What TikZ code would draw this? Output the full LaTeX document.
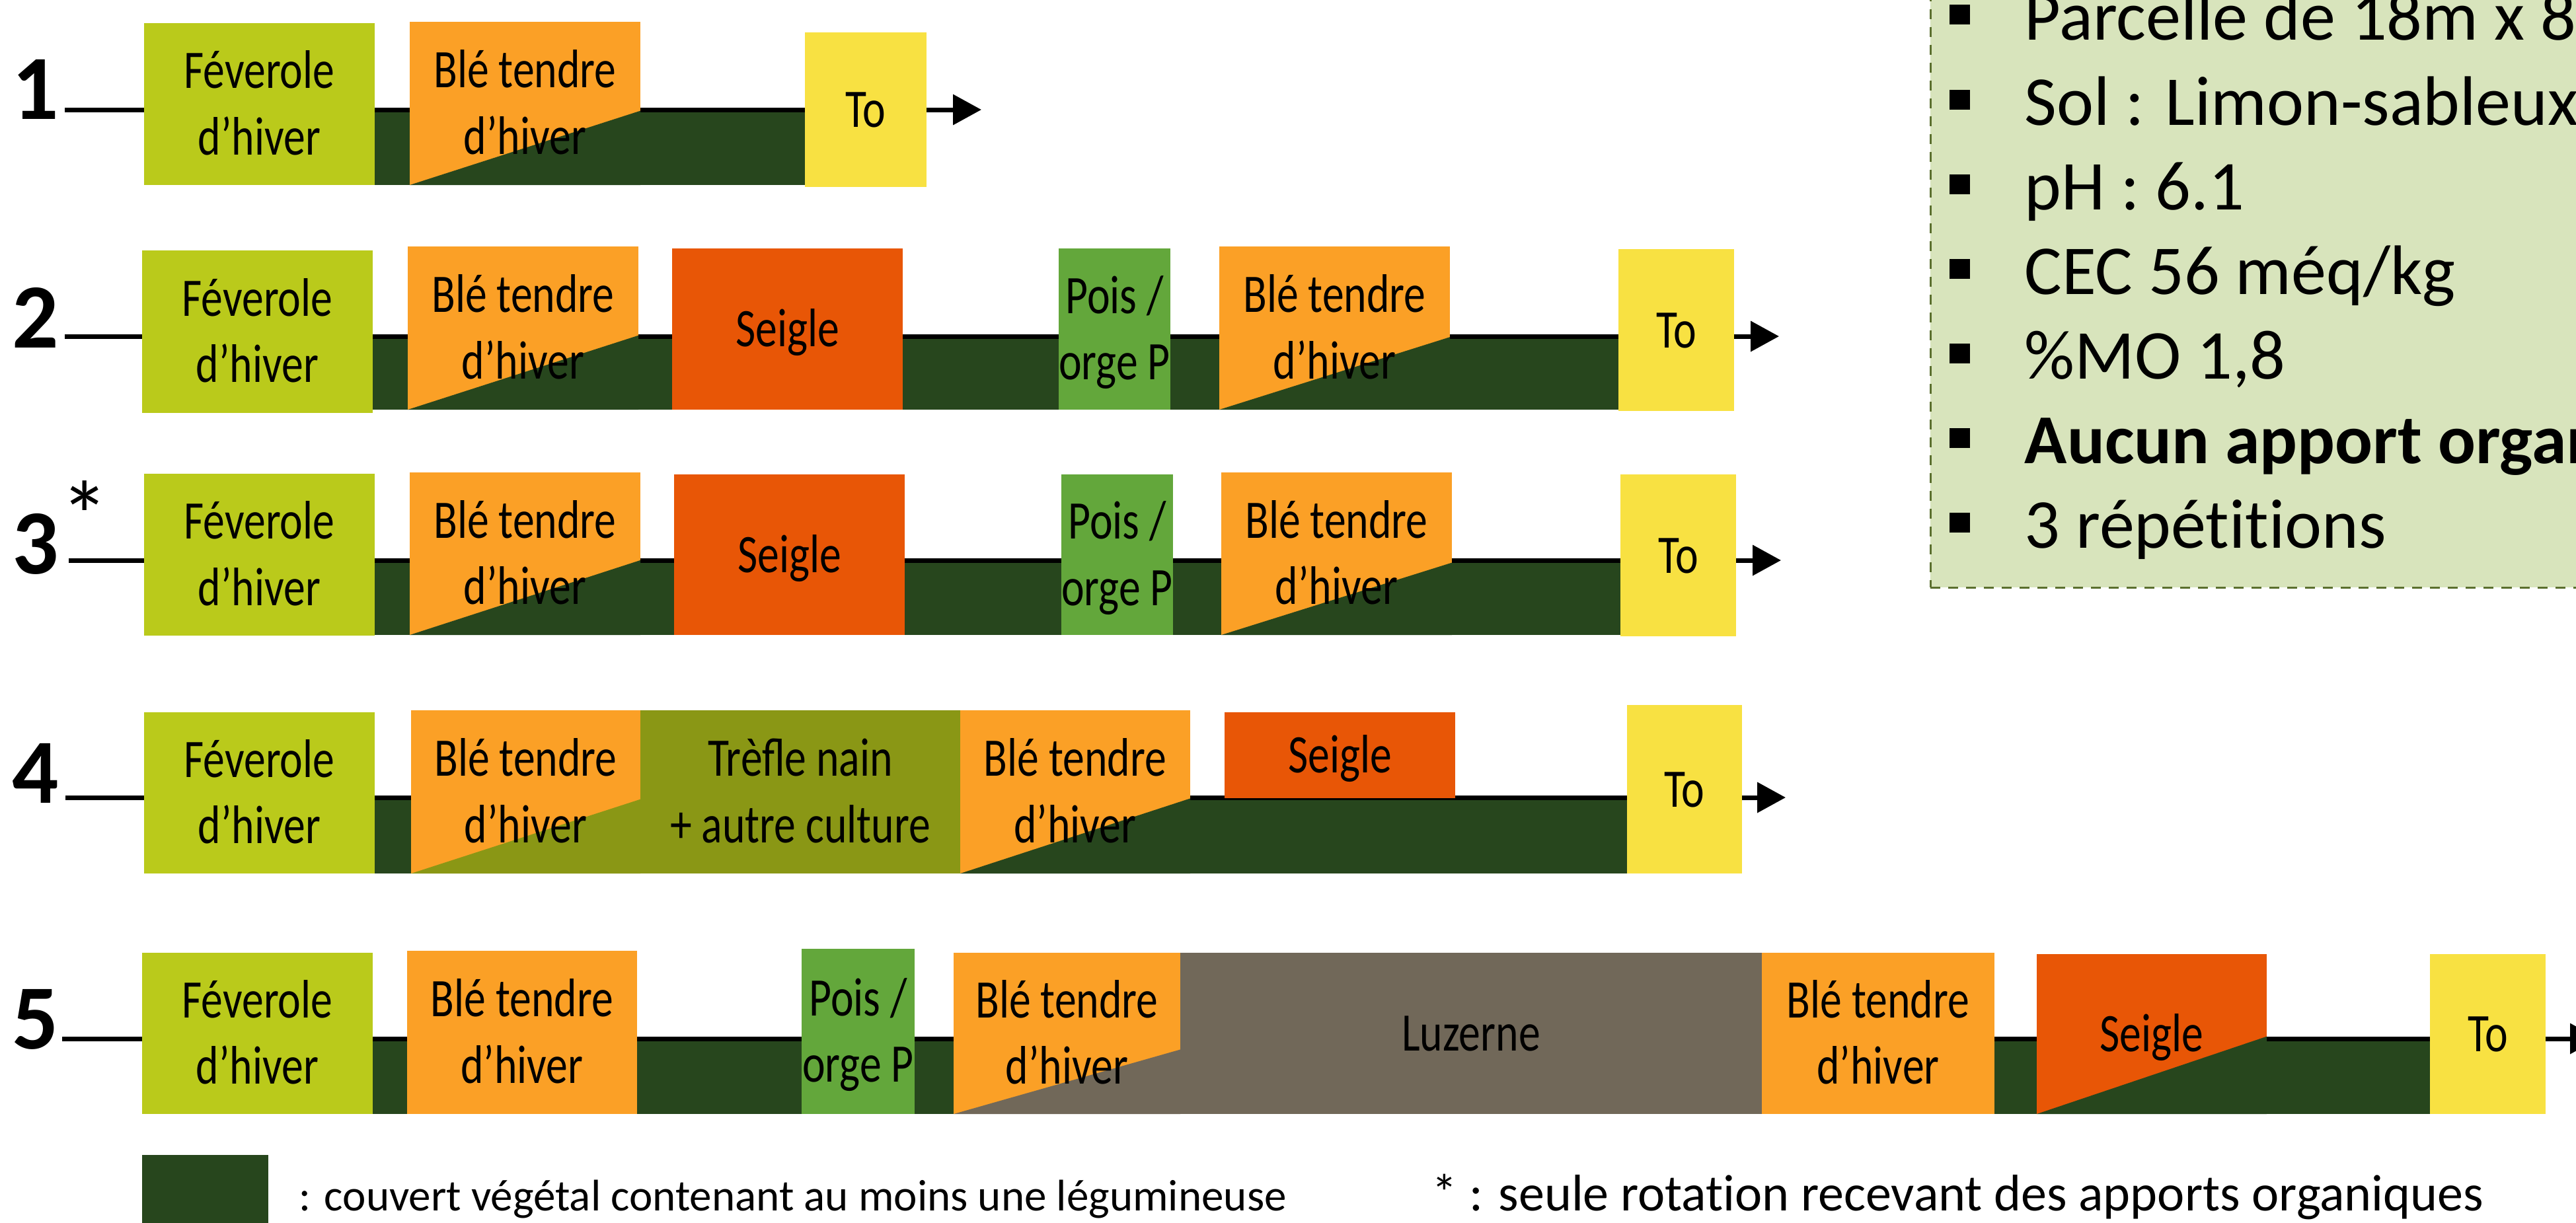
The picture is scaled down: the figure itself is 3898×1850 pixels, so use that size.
\documentclass[tikz,border=0pt]{standalone}
\usepackage{fontspec}
\setmainfont{Carlito}[Ligatures=NoCommon]
\newfontfamily\cropfont[FakeStretch=0.8]{Carlito}
\usetikzlibrary{fit,calc,backgrounds,arrows.meta}

\definecolor{feverole}{HTML}{BACA1B}
\definecolor{ble}{HTML}{FBA026}
\definecolor{seigle}{HTML}{E85606}
\definecolor{pois}{HTML}{63A73B}
\definecolor{tojaune}{HTML}{F8E142}
\definecolor{trefle}{HTML}{8A9715}
\definecolor{luzerne}{HTML}{716859}
\definecolor{couvert}{HTML}{27461D}
\definecolor{infofond}{HTML}{D8E4BC}
\definecolor{infotrait}{HTML}{5B6F2E}

\newcommand\cropstrut{\rule[-0.22cm]{0pt}{0.97cm}}
\newcommand\infobullet{\rule[0.23cm]{0.31cm}{0.30cm}\hspace{0.83cm}}

\begin{document}
\begin{tikzpicture}[x=0.01cm, y=-0.01cm,
    crop/.style 2 args={minimum width=#1cm, minimum height=#2cm, inner sep=0pt, outer sep=0pt,
      align=center, font=\cropfont\fontsize{23.35pt}{25.3pt}\selectfont},
    slant/.style 2 args={path picture={\fill[#1] (path picture bounding box.south west)
      -- (path picture bounding box.south east)
      -- ($(path picture bounding box.south east)!#2!(path picture bounding box.north east)$) -- cycle;}},
    rownum/.style={inner sep=0pt, anchor=base east, font=\bfseries\fontsize{39.5pt}{42pt}\selectfont},
    rowline/.style={line width=0.07cm},
    arrowline/.style={line width=0.07cm, -{Triangle[width=0.45cm,length=0.43cm]}},
    infotext/.style={inner sep=0pt, anchor=base west, font=\fontsize{30.16pt}{36pt}\selectfont}]
  \useasboundingbox (0,0) rectangle (3898,1850);

  \node[draw=infotrait, line width=0.03cm, dash pattern=on 0.15cm off 0.12cm, fill=infofond,
    inner sep=0pt, fit={(2921,-60) (3990,889)}] (info) {};
  \node[infotext] (info1) at (2949,60) {\infobullet Parcelle de 18m x 8};
  \node[infotext] (info2) at (2949,189) {\infobullet Sol : Limon-sableux};
  \node[infotext] (info3) at (2949,317) {\infobullet pH : 6.1};
  \node[infotext] (info4) at (2949,445) {\infobullet CEC 56 méq/kg};
  \node[infotext] (info5) at (2949,573) {\infobullet \%MO 1,8};
  \node[infotext] (info6) at (2949,701) {\infobullet \textbf{Aucun apport organ}};
  \node[infotext] (info7) at (2949,829) {\infobullet 3 répétitions};

  \coordinate (r1) at (98,166);
  \node[rownum] (n1) at (90,180) {1};
  \node[crop={3.49}{2.45}, fill=feverole] (fev1) at (392.5,157.5) {\cropstrut Féverole\\d’hiver\cropstrut};
  \node[crop={3.49}{2.47}, fill=ble, slant={couvert}{0.455}] (ble1) at (794.5,156.5) {\cropstrut Blé tendre\\d’hiver\cropstrut};
  \node[crop={1.84}{2.34}, fill=tojaune] (to1) at (1310,166) {\cropstrut To\cropstrut};

  \coordinate (r2) at (98,509);
  \node[rownum] (n2) at (90,526) {2};
  \node[crop={3.49}{2.46}, fill=feverole] (fev2) at (389.5,502) {\cropstrut Féverole\\d’hiver\cropstrut};
  \node[crop={3.49}{2.47}, fill=ble, slant={couvert}{0.455}] (ble2a) at (791.5,496.5) {\cropstrut Blé tendre\\d’hiver\cropstrut};
  \node[crop={3.49}{2.44}, fill=seigle] (seigle2) at (1191.5,498) {\cropstrut Seigle\cropstrut};
  \node[crop={1.69}{2.44}, fill=pois] (pois2) at (1686.5,498) {\cropstrut Pois /\\orge P\cropstrut};
  \node[crop={3.49}{2.47}, fill=ble, slant={couvert}{0.445}] (ble2b) at (2019.5,496.5) {\cropstrut Blé tendre\\d’hiver\cropstrut};
  \node[crop={1.75}{2.45}, fill=tojaune] (to2) at (2536.5,499.5) {\cropstrut To\cropstrut};

  \coordinate (r3) at (104,848);
  \node[rownum] (n3) at (90,868) {3};
  \node[font=\fontsize{42pt}{44pt}\selectfont, inner sep=0pt, anchor=base] (star3) at (128,832) {*};
  \node[crop={3.49}{2.45}, fill=feverole] (fev3) at (392.5,839.5) {\cropstrut Féverole\\d’hiver\cropstrut};
  \node[crop={3.49}{2.46}, fill=ble, slant={couvert}{0.46}] (ble3a) at (794.5,838) {\cropstrut Blé tendre\\d’hiver\cropstrut};
  \node[crop={3.49}{2.43}, fill=seigle] (seigle3) at (1194.5,839.5) {\cropstrut Seigle\cropstrut};
  \node[crop={1.69}{2.43}, fill=pois] (pois3) at (1690.5,839.5) {\cropstrut Pois /\\orge P\cropstrut};
  \node[crop={3.49}{2.46}, fill=ble, slant={couvert}{0.445}] (ble3b) at (2022.5,838) {\cropstrut Blé tendre\\d’hiver\cropstrut};
  \node[crop={1.75}{2.45}, fill=tojaune] (to3) at (2539.5,840.5) {\cropstrut To\cropstrut};

  \coordinate (r4) at (99,1207);
  \node[rownum] (n4) at (90,1215) {4};
  \node[crop={3.49}{2.44}, fill=feverole] (fev4) at (392.5,1200) {\cropstrut Féverole\\d’hiver\cropstrut};
  \node[crop={3.47}{2.47}, fill=ble, slant={trefle}{0.455}] (ble4a) at (795.5,1198.5) {\cropstrut Blé tendre\\d’hiver\cropstrut};
  \node[crop={4.84}{2.47}, fill=trefle] (trefle4) at (1211,1198.5) {\cropstrut Trèfle nain\\+ autre culture\cropstrut};
  \node[crop={3.48}{2.47}, fill=ble, slant={couvert}{0.46}] (ble4b) at (1627,1198.5) {\cropstrut Blé tendre\\d’hiver\cropstrut};
  \node[crop={3.49}{1.30}, fill=seigle] (seigle4) at (2027.5,1143) {\cropstrut Seigle\cropstrut};
  \node[crop={1.74}{2.55}, fill=tojaune] (to4) at (2549,1194.5) {\cropstrut To\cropstrut};

  \coordinate (r5) at (94,1572);
  \node[rownum] (n5) at (90,1587) {5};
  \node[crop={3.49}{2.44}, fill=feverole] (fev5) at (389.5,1564) {\cropstrut Féverole\\d’hiver\cropstrut};
  \node[crop={3.48}{2.47}, fill=ble] (ble5a) at (790,1562.5) {\cropstrut Blé tendre\\d’hiver\cropstrut};
  \node[crop={1.71}{2.50}, fill=pois] (pois5) at (1298.5,1561) {\cropstrut Pois /\\orge P\cropstrut};
  \node[crop={3.43}{2.44}, fill=ble, slant={luzerne}{0.40}] (ble5b) at (1614.5,1564) {\cropstrut Blé tendre\\d’hiver\cropstrut};
  \node[crop={8.80}{2.44}, fill=luzerne] (luzerne5) at (2226,1564) {\cropstrut Luzerne\cropstrut};
  \node[crop={3.52}{2.44}, fill=ble] (ble5c) at (2842,1564) {\cropstrut Blé tendre\\d’hiver\cropstrut};
  \node[crop={3.48}{2.42}, fill=seigle, slant={couvert}{0.485}] (seigle5) at (3256,1565) {\cropstrut Seigle\cropstrut};
  \node[crop={1.75}{2.42}, fill=tojaune] (to5) at (3764.5,1565) {\cropstrut To\cropstrut};

  \begin{scope}[on background layer]
    \fill[couvert] (fev1.east |- r1) rectangle (to1.west |- fev1.south);
    \fill[couvert] (fev2.east |- r2) rectangle (to2.west |- ble2a.south);
    \fill[couvert] (fev3.east |- r3) rectangle (to3.west |- ble3a.south);
    \fill[couvert] (fev4.east |- r4) rectangle (to4.west |- fev4.south);
    \fill[couvert] (fev5.east |- r5) rectangle (to5.west |- fev5.south);
    \draw[rowline] (r1) -- (to1.west |- r1);
    \draw[rowline] (r2) -- (to2.west |- r2);
    \draw[rowline] (r3) -- (to3.west |- r3);
    \draw[rowline] (r4) -- (to4.west |- r4);
    \draw[rowline] (r5) -- (to5.west |- r5);
  \end{scope}
  \draw[arrowline] (to1.east |- r1) -- ++(83,0);
  \draw[arrowline] (to2.east |- r2) -- ++(68,0);
  \draw[arrowline] (to3.east |- r3) -- ++(68,0);
  \draw[arrowline] (to4.east |- r4) -- ++(66,0);
  \draw[arrowline] (to5.east |- r5) -- ++(80,0);

  \node[fill=couvert, inner sep=0pt, fit={(215,1748) (406,1870)}] (legsq) {};
  \node[inner sep=0pt, anchor=base west, font=\fontsize{19.06pt}{22pt}\selectfont] (legtext) at (452,1832)
    {: couvert végétal contenant au moins une légumineuse};
  \node[inner sep=0pt, anchor=base west, font=\fontsize{22.2pt}{26pt}\selectfont] (startext) at (2166,1832)
    {* : seule rotation recevant des apports organiques};
\end{tikzpicture}
\end{document}
